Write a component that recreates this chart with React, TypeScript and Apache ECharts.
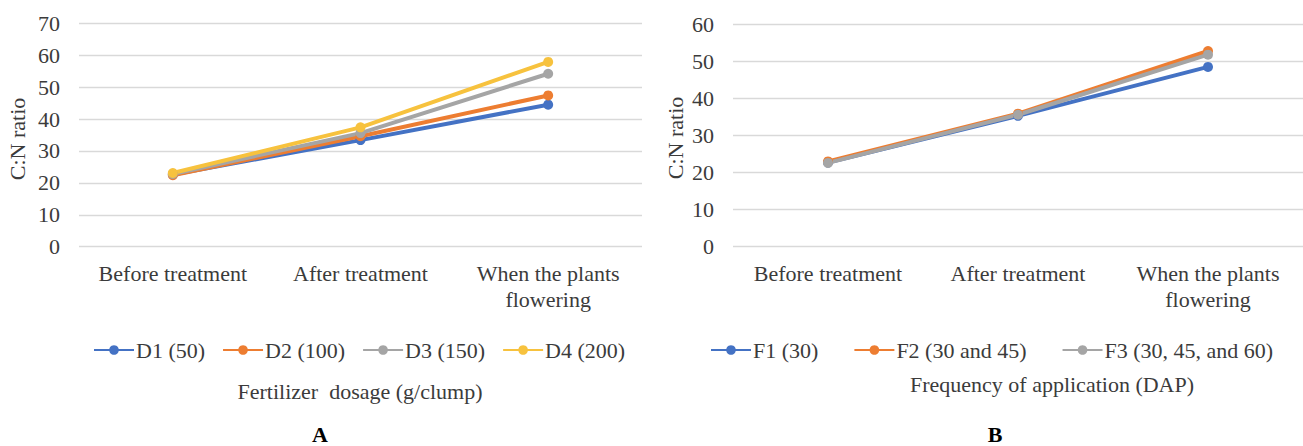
import React, { useEffect, useRef } from "react";
import * as echarts from "echarts";

// Stages at which the C:N ratio was measured
const stages = ["Before treatment", "After treatment", "When the plants\nflowering"];

// Panel A – fertilizer dosage (g/clump)
const dosageNames = ["D1 (50)", "D2 (100)", "D3 (150)", "D4 (200)"];
const d1 = [22.6, 33.4, 44.5];
const d2 = [22.4, 34.6, 47.4];
const d3 = [22.8, 35.6, 54.2];
const d4 = [23.1, 37.4, 57.9];

// Panel B – frequency of application (DAP)
const freqNames = ["F1 (30)", "F2 (30 and 45)", "F3 (30, 45, and 60)"];
const f1 = [22.7, 35.3, 48.5];
const f2 = [23.0, 35.9, 52.8];
const f3 = [22.6, 35.6, 51.8];

const yTicksA = { min: 0, max: 70, interval: 10 };
const yTicksB = { min: 0, max: 60, interval: 10 };

const COLORS = ["#4472C4", "#ED7D31", "#A5A5A5", "#F7C23E"];
const FONT = "Liberation Serif, Times New Roman, Times, serif";
const TEXT = "#3b3b3b";
const GRID_LINE = "#D9D9D9";

function makeSeries(name: string, data: number[], color: string, idx: number) {
  return {
    type: "line",
    name,
    data,
    xAxisIndex: idx,
    yAxisIndex: idx,
    symbol: "circle",
    symbolSize: 10,
    color,
    lineStyle: { width: 4, color },
    itemStyle: { color },
  };
}

function makeXAxis(gridIndex: number) {
  return {
    type: "category",
    gridIndex,
    data: stages,
    axisLine: { show: false },
    axisTick: { show: false },
    axisLabel: {
      interval: 0,
      margin: 14,
      color: TEXT,
      fontFamily: FONT,
      fontSize: 22,
      lineHeight: 26,
    },
  };
}

function makeYAxis(gridIndex: number, t: { min: number; max: number; interval: number }) {
  return {
    type: "value",
    gridIndex,
    min: t.min,
    max: t.max,
    interval: t.interval,
    axisLine: { show: false },
    axisTick: { show: false },
    axisLabel: { margin: 19, color: TEXT, fontFamily: FONT, fontSize: 22 },
    splitLine: { lineStyle: { color: GRID_LINE, width: 1.4 } },
  };
}

const legendText = { color: TEXT, fontFamily: FONT, fontSize: 22, lineHeight: 22, padding: [0, 0, 0, -3] };

function label(text: string, x: number, y: number, opts: any = {}) {
  return {
    type: "text",
    x,
    y,
    rotation: opts.rotation || 0,
    style: {
      text,
      fill: opts.fill || TEXT,
      fontFamily: FONT,
      fontSize: 22,
      fontWeight: opts.bold ? "bold" : "normal",
      textAlign: "center",
      textVerticalAlign: opts.vAlign || "middle",
    },
  };
}

export default function App() {
  const ref = useRef<HTMLDivElement>(null);

  useEffect(() => {
    if (!ref.current) return;
    const chart = echarts.init(ref.current, undefined, { renderer: "svg" });
    const seriesA = [d1, d2, d3, d4].map((d, i) => makeSeries(dosageNames[i], d, COLORS[i], 0));
    const seriesB = [f1, f2, f3].map((d, i) => makeSeries(freqNames[i], d, COLORS[i], 1));

    chart.setOption({
      animation: false,
      backgroundColor: "#ffffff",
      textStyle: { fontFamily: FONT },
      grid: [
        { left: 79, top: 23.3, width: 563, height: 223.4 },
        { left: 733, top: 24.3, width: 570, height: 222.4 },
      ],
      xAxis: [makeXAxis(0), makeXAxis(1)],
      yAxis: [makeYAxis(0, yTicksA), makeYAxis(1, yTicksB)],
      legend: [
        {
          data: dosageNames,
          left: 93,
          top: 339,
          padding: 0,
          itemWidth: 40,
          itemHeight: 12,
          itemGap: 17,
          textStyle: legendText,
        },
        {
          data: freqNames,
          left: 710,
          top: 339,
          padding: 0,
          itemWidth: 40,
          itemHeight: 12,
          itemGap: 35,
          textStyle: legendText,
        },
      ],
      graphic: [
        label("C:N ratio", 17, 139, { rotation: Math.PI / 2 }),
        label("C:N ratio", 675, 138, { rotation: Math.PI / 2 }),
        label("Fertilizer  dosage (g/clump)", 360, 391),
        label("Frequency of application (DAP)", 1052, 384),
        label("A", 320, 445, { bold: true, fill: "#000000", vAlign: "bottom" }),
        label("B", 995, 445, { bold: true, fill: "#000000", vAlign: "bottom" }),
      ],
      series: [...seriesA, ...seriesB],
    });

    return () => chart.dispose();
  }, []);

  return (
    <div
      ref={ref}
      style={{ position: "fixed", left: 0, top: 0, width: 1303, height: 446, background: "#fff" }}
    />
  );
}
